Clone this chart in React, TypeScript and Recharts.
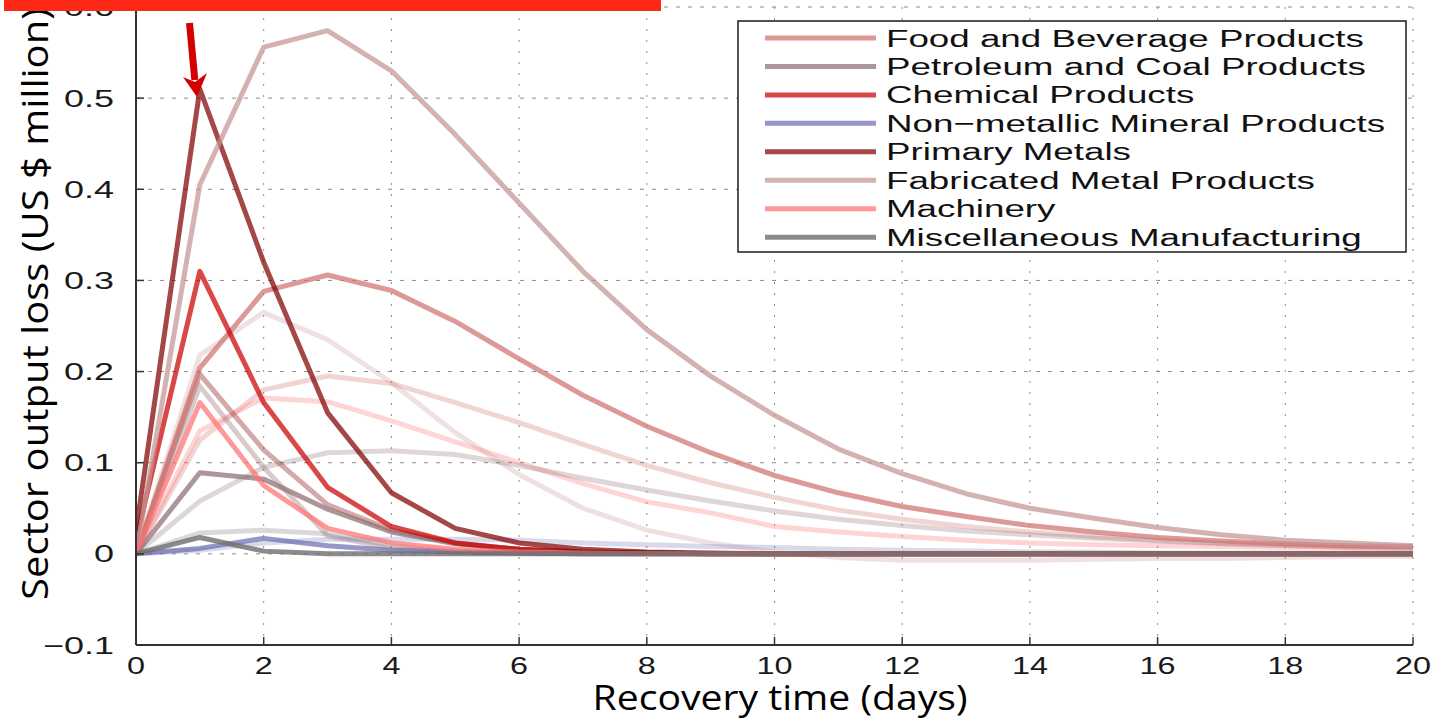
import React from 'react';
import { LineChart, Line, XAxis, YAxis, CartesianGrid, Legend, Label } from 'recharts';

// ---------- data ----------
const days = [0, 1, 2, 3, 4, 5, 6, 7, 8, 9, 10, 11, 12, 13, 14, 15, 16, 17, 18, 19, 20];
const xTicks = [0, 2, 4, 6, 8, 10, 12, 14, 16, 18, 20];
const yTicks = [-0.1, 0, 0.1, 0.2, 0.3, 0.4, 0.5, 0.6];

// main scenario
const food = [0, 0.204, 0.288, 0.306, 0.289, 0.255, 0.214, 0.174, 0.14, 0.111, 0.086, 0.067, 0.052, 0.041, 0.031, 0.024, 0.018, 0.014, 0.011, 0.009, 0.008];
const petroleum = [0, 0.089, 0.082, 0.049, 0.024, 0.011, 0.005, 0.002, 0.001, 0, 0, 0, 0, 0, 0, 0, 0, 0, 0, 0, 0];
const chemical = [0.015, 0.31, 0.166, 0.073, 0.03, 0.012, 0.005, 0.002, 0.001, 0, 0, 0, 0, 0, 0, 0, 0, 0, 0, 0, 0];
const nonMetallic = [0, 0.006, 0.017, 0.009, 0.004, 0.002, 0.001, 0, 0, 0, 0, 0, 0, 0, 0, 0, 0, 0, 0, 0, 0];
const primaryMetals = [0.025, 0.51, 0.32, 0.155, 0.067, 0.028, 0.012, 0.005, 0.002, 0.001, 0, 0, 0, 0, 0, 0, 0, 0, 0, 0, 0];
const fabricated = [0, 0.405, 0.556, 0.574, 0.53, 0.46, 0.385, 0.31, 0.246, 0.195, 0.152, 0.115, 0.088, 0.066, 0.05, 0.039, 0.029, 0.021, 0.015, 0.012, 0.009];
const machinery = [0, 0.166, 0.075, 0.028, 0.012, 0.005, 0.002, 0.001, 0, 0, 0, 0, 0, 0, 0, 0, 0, 0, 0, 0, 0];
const misc = [0, 0.018, 0.003, 0, 0, 0, 0, 0, 0, 0, 0, 0, 0, 0, 0, 0, 0, 0, 0, 0, 0];

// faint (second) scenario
const foodB = [0, 0.125, 0.18, 0.195, 0.187, 0.166, 0.144, 0.12, 0.097, 0.078, 0.062, 0.048, 0.038, 0.03, 0.024, 0.019, 0.015, 0.012, 0.01, 0.008, 0.007];
const petroleumB = [0, 0.058, 0.095, 0.111, 0.113, 0.109, 0.097, 0.083, 0.07, 0.058, 0.047, 0.038, 0.031, 0.025, 0.021, 0.017, 0.014, 0.011, 0.009, 0.007, 0.006];
const chemicalB = [0, 0.184, 0.095, 0.02, 0.006, 0.002, 0.001, 0, 0, 0, 0, 0, 0, 0, 0, 0, 0, 0, 0, 0, 0];
const nonMetallicB = [0, 0.004, 0.012, 0.016, 0.016, 0.016, 0.015, 0.012, 0.01, 0.008, 0.007, 0.005, 0.004, 0.003, 0.002, 0.002, 0.001, 0.001, 0.001, 0, 0];
const primaryMetalsB = [0, 0.197, 0.114, 0.054, 0.026, 0.012, 0.005, 0.002, 0.001, 0, 0, 0, 0, 0, 0, 0, 0, 0, 0, 0, 0];
const fabricatedB = [0, 0.218, 0.265, 0.235, 0.188, 0.133, 0.087, 0.05, 0.026, 0.012, 0.002, -0.004, -0.007, -0.007, -0.007, -0.006, -0.005, -0.005, -0.004, -0.003, -0.003];
const machineryB = [0, 0.135, 0.171, 0.167, 0.146, 0.123, 0.1, 0.077, 0.057, 0.045, 0.03, 0.024, 0.019, 0.015, 0.012, 0.01, 0.009, 0.008, 0.007, 0.006, 0.005];
const miscB = [0, 0.023, 0.026, 0.022, 0.009, 0.003, 0.001, 0, 0, 0, 0, 0, 0, 0, 0, 0, 0, 0, 0, 0, 0];

const seriesNames = [
  'Food and Beverage Products',
  'Petroleum and Coal Products',
  'Chemical Products',
  'Non\u2212metallic Mineral Products',
  'Primary Metals',
  'Fabricated Metal Products',
  'Machinery',
  'Miscellaneous Manufacturing',
];

const rows = days.map((d, i) => ({
  day: d,
  food: food[i], petroleum: petroleum[i], chemical: chemical[i], nonMetallic: nonMetallic[i],
  primaryMetals: primaryMetals[i], fabricated: fabricated[i], machinery: machinery[i], misc: misc[i],
  foodB: foodB[i], petroleumB: petroleumB[i], chemicalB: chemicalB[i], nonMetallicB: nonMetallicB[i],
  primaryMetalsB: primaryMetalsB[i], fabricatedB: fabricatedB[i], machineryB: machineryB[i], miscB: miscB[i],
}));

// ---------- styles ----------
const AX = '#333';
const TICK_FONT = '"Liberation Sans", Arial, Helvetica, sans-serif';
const LABEL_FONT = '"Open Sans", "Noto Sans", sans-serif';

const mainSeries = [
  { key: 'food', name: seriesNames[0], color: '#d07070', opacity: 0.72 },
  { key: 'petroleum', name: seriesNames[1], color: '#8a6a6e', opacity: 0.7 },
  { key: 'chemical', name: seriesNames[2], color: '#cc0000', opacity: 0.72 },
  { key: 'nonMetallic', name: seriesNames[3], color: '#6a6ab0', opacity: 0.7 },
  { key: 'primaryMetals', name: seriesNames[4], color: '#800000', opacity: 0.72 },
  { key: 'fabricated', name: seriesNames[5], color: '#c49494', opacity: 0.72 },
  { key: 'machinery', name: seriesNames[6], color: '#ff7070', opacity: 0.72 },
  { key: 'misc', name: seriesNames[7], color: '#6e6e6e', opacity: 0.8 },
];

const faintSeries = [
  { key: 'fabricatedB', color: '#c49494', opacity: 0.28 },
  { key: 'foodB', color: '#d07070', opacity: 0.3 },
  { key: 'machineryB', color: '#ff7070', opacity: 0.3 },
  { key: 'petroleumB', color: '#8a6a6e', opacity: 0.28 },
  { key: 'primaryMetalsB', color: '#a04040', opacity: 0.45 },
  { key: 'chemicalB', color: '#a07c7c', opacity: 0.4 },
  { key: 'miscB', color: '#808080', opacity: 0.3 },
  { key: 'nonMetallicB', color: '#8080c0', opacity: 0.3 },
];

const fmt = (v: number) => {
  const r = Math.round(v * 10) / 10;
  if (r === 0) return '0';
  return r < 0 ? '\u2212' + Math.abs(r).toString() : r.toString();
};

const BottomTick = (p: any) => {
  const { x, y, payload } = p;
  return (
    <g>
      <line x1={x} y1={y} x2={x} y2={y - 8} stroke={AX} strokeWidth={1.5} />
      <text transform={`translate(${x},${y + 29}) scale(1.35,1)`} textAnchor="middle" fontFamily={TICK_FONT} fontSize={24} fill="#1a1a1a">
        {fmt(payload.value)}
      </text>
    </g>
  );
};
const TopTick = (p: any) => {
  const { x, y } = p;
  return <line x1={x} y1={y} x2={x} y2={y + 8} stroke={AX} strokeWidth={1.5} />;
};
const LeftTick = (p: any) => {
  const { x, y, payload } = p;
  return (
    <g>
      <line x1={x} y1={y} x2={x + 8} y2={y} stroke={AX} strokeWidth={1.5} />
      <text transform={`translate(${x - 22},${y + 8.5}) scale(1.5,1)`} textAnchor="end" fontFamily={TICK_FONT} fontSize={24} fill="#1a1a1a">
        {fmt(payload.value)}
      </text>
    </g>
  );
};
const RightTick = (p: any) => {
  const { x, y } = p;
  return <line x1={x} y1={y} x2={x - 8} y2={y} stroke={AX} strokeWidth={1.5} />;
};

const YTitle = () => (
  <text
    transform="translate(48,304) rotate(-90)"
    textAnchor="middle"
    fontFamily={LABEL_FONT}
    fontSize={36}
    fill="#000"
    textLength={592}
    lengthAdjust="spacingAndGlyphs"
  >
    Sector output loss (US $ million)
  </text>
);
const XTitle = () => (
  <text
    x={780}
    y={710}
    textAnchor="middle"
    fontFamily={LABEL_FONT}
    fontSize={35}
    fill="#000"
    textLength={375}
    lengthAdjust="spacingAndGlyphs"
  >
    Recovery time (days)
  </text>
);

const LegendBox = () => (
  <svg width={670} height={233} style={{ display: 'block' }}>
    <rect x={1} y={1} width={668} height={231} fill="#fff" stroke="#1a1a1a" strokeWidth={1.5} />
    {mainSeries.map((s, i) => {
      const cy = 18 + i * 28.45;
      return (
        <g key={s.key}>
          <line x1={28} x2={139} y1={cy} y2={cy} stroke={s.color} strokeOpacity={s.opacity} strokeWidth={5} />
          <text transform={`translate(149,${cy + 8.5}) scale(1.5,1)`} fontFamily={TICK_FONT} fontSize={24.5} fill="#111">
            {s.name}
          </text>
        </g>
      );
    })}
  </svg>
);

export default function App() {
  return (
    <div style={{ position: 'absolute', left: 0, top: 0, width: 1433, height: 718, background: '#fff' }}>
      <LineChart width={1433} height={718} data={rows} margin={{ top: 7, right: 20, bottom: 0, left: 0 }}>
        <CartesianGrid vertical={false} stroke="#8a8a8a" strokeWidth={1} strokeDasharray="4 8" />
        <CartesianGrid horizontal={false} stroke="#8a8a8a" strokeWidth={1} strokeDasharray="2 9" />
        <XAxis
          dataKey="day"
          type="number"
          domain={[0, 20]}
          ticks={xTicks}
          height={73}
          tickSize={0}
          tickMargin={0}
          tickLine={false}
          axisLine={{ stroke: AX, strokeWidth: 2 }}
          tick={BottomTick}
          interval={0}
          allowDataOverflow
        >
          <Label content={XTitle} />
        </XAxis>
        <XAxis
          xAxisId="top"
          dataKey="day"
          orientation="top"
          type="number"
          domain={[0, 20]}
          ticks={xTicks}
          height={0}
          tickSize={0}
          tickMargin={0}
          tickLine={false}
          axisLine={{ stroke: AX, strokeWidth: 2 }}
          tick={TopTick}
          interval={0}
          allowDataOverflow
        />
        <YAxis
          type="number"
          domain={[-0.1, 0.6]}
          ticks={yTicks}
          width={136}
          tickSize={0}
          tickMargin={0}
          tickLine={false}
          axisLine={{ stroke: AX, strokeWidth: 2 }}
          tick={LeftTick}
          interval={0}
          allowDataOverflow
        >
          <Label content={YTitle} />
        </YAxis>
        <YAxis
          yAxisId="right"
          orientation="right"
          type="number"
          domain={[-0.1, 0.6]}
          ticks={yTicks}
          width={0}
          tickSize={0}
          tickMargin={0}
          tickLine={false}
          axisLine={{ stroke: AX, strokeWidth: 2 }}
          tick={RightTick}
          interval={0}
          allowDataOverflow
        />
        <Line xAxisId="top" yAxisId="right" dataKey="food" stroke="none" dot={false} legendType="none" isAnimationActive={false} />
        {faintSeries.map((s) => (
          <Line
            key={s.key}
            dataKey={s.key}
            type="linear"
            stroke={s.color}
            strokeOpacity={s.opacity}
            strokeWidth={5}
            dot={false}
            legendType="none"
            isAnimationActive={false}
          />
        ))}
        {mainSeries.map((s) => (
          <Line
            key={s.key}
            dataKey={s.key}
            name={s.name}
            type="linear"
            stroke={s.color}
            strokeOpacity={s.opacity}
            strokeWidth={5}
            strokeLinejoin="round"
            dot={false}
            isAnimationActive={false}
          />
        ))}
        <Legend
          layout="vertical"
          align="center"
          verticalAlign="middle"
          content={LegendBox}
          wrapperStyle={{ position: 'absolute', left: 737, top: 20, width: 670, height: 233, margin: 0, padding: 0 }}
        />
      </LineChart>
      <svg width={1433} height={718} style={{ position: 'absolute', left: 0, top: 0, pointerEvents: 'none' }}>
        <rect x={4} y={0} width={657} height={11} fill="#fe2816" />
        <line x1={189.5} y1={23} x2={194.8} y2={80} stroke="#d40000" strokeWidth={7} />
        <polygon points="197,97 183,77 195,82 207,73" fill="#d40000" />
      </svg>
    </div>
  );
}
